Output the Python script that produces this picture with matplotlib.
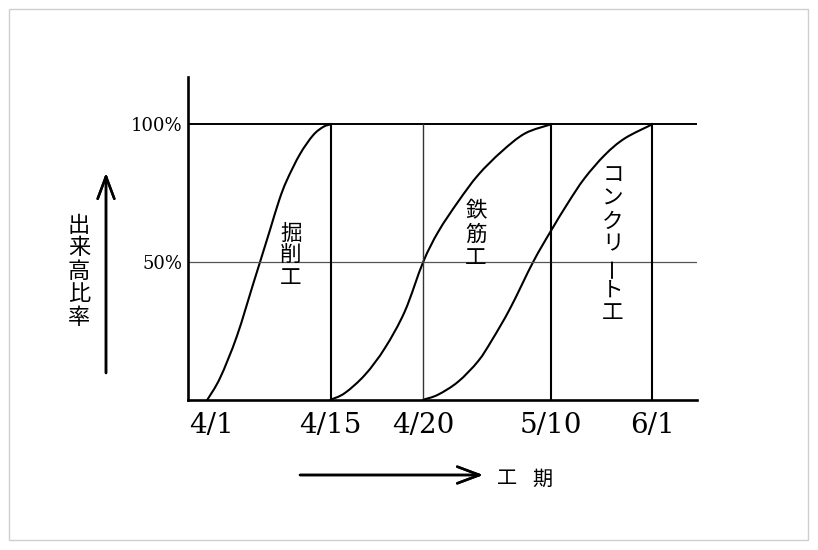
import matplotlib
matplotlib.use("Agg")
import matplotlib.pyplot as plt
from matplotlib.patches import Rectangle, PathPatch
from matplotlib.path import Path

plt.rcParams['font.family'] = ['Noto Sans CJK JP', 'DejaVu Sans']

# schedule position (0-100 across the axis) and progress (%)
kussaku_x = [3.8, 6.3, 9.57, 12.83, 14.15, 16.1, 17.9, 19.4, 22.0, 24.6, 26.6, 28.0]
kussaku_y = [0, 7.9, 22.9, 42.2, 50.0, 61.6, 72.4, 79.6, 89.2, 96.1, 99.1, 100]

tekkin_x = [28.0, 30.8, 34.8, 38.7, 42.6, 46.2, 49.2, 53.1, 57.0, 61.6, 66.2, 71.3]
tekkin_y = [0, 2.4, 9.1, 18.8, 32.1, 50.0, 61.1, 72.0, 81.6, 90.1, 96.7, 100]

concrete_x = [46.2, 49.1, 53.05, 57.0, 59.7, 63.3, 67.8, 71.2, 74.7, 77.9, 81.9, 85.8, 91.2]
concrete_y = [0, 1.8, 6.5, 14.0, 21.6, 33.2, 50.0, 61.0, 71.6, 80.4, 88.9, 94.9, 100]

tick_pos = [4.6, 28.0, 46.2, 71.3, 91.2]
tick_labels = ['4/1', '4/15', '4/20', '5/10', '6/1']
milestones = [28.0, 46.2, 71.3, 91.2]
milestone_lw = [1.5, 1.0, 1.5, 1.5]
milestone_col = ['black', '#333333', 'black', 'black']

W, H = 818, 550
fig = plt.figure(figsize=(W / 100, H / 100), dpi=100)
fig.patch.set_facecolor('white')

# light grey frame around the picture
fig.patches.append(Rectangle((9 / W, 10 / H), 799 / W, 531 / H, transform=fig.transFigure,
                             fill=False, edgecolor='#cfcfcf', linewidth=1.0))

ax = fig.add_axes([188 / W, 150.3 / H, 509 / W, 322.7 / H])
ax.set_xlim(0, 100)
ax.set_ylim(0, 117.2)
for side in ['top', 'right']:
    ax.spines[side].set_visible(False)
for side in ['left', 'bottom']:
    ax.spines[side].set_linewidth(1.9)

# reference lines
ax.plot([0, 100], [100, 100], color='black', lw=1.4)
ax.plot([0, 100], [50, 50], color='#555555', lw=0.9)
for x, lw, c in zip(milestones, milestone_lw, milestone_col):
    ax.plot([x, x], [0, 100], color=c, lw=lw)


def smooth_path(xs, ys):
    # Catmull-Rom through the read points, drawn as cubic Bezier segments
    pts = list(zip(xs, ys))
    pts = [pts[0]] + pts + [pts[-1]]
    verts = [pts[1]]
    codes = [Path.MOVETO]
    for i in range(1, len(pts) - 2):
        p0, p1, p2, p3 = pts[i - 1], pts[i], pts[i + 1], pts[i + 2]
        c1 = (p1[0] + (p2[0] - p0[0]) / 6, p1[1] + (p2[1] - p0[1]) / 6)
        c2 = (p2[0] - (p3[0] - p1[0]) / 6, p2[1] - (p3[1] - p1[1]) / 6)
        verts += [c1, c2, p2]
        codes += [Path.CURVE4] * 3
    return Path(verts, codes)


# S-curves
for xs, ys in [(kussaku_x, kussaku_y), (tekkin_x, tekkin_y), (concrete_x, concrete_y)]:
    ax.add_patch(PathPatch(smooth_path(xs, ys), fill=False, edgecolor='black', lw=1.5,
                           capstyle='round'))

ax.set_xticks(tick_pos)
ax.set_xticklabels(tick_labels, family='DejaVu Serif', fontsize=20)
ax.set_yticks([50, 100])
ax.set_yticklabels(['50%', '100%'], family='DejaVu Serif', fontsize=13)
ax.tick_params(axis='x', length=0, pad=9)
ax.tick_params(axis='y', length=0, pad=4)


def vtext(x, y, text, step=16.3, size=15.5):
    for i, ch in enumerate(text):
        ax.annotate(ch, xy=(x, y), xytext=(0, -i * step), textcoords='offset points',
                    ha='center', va='center', fontsize=size,
                    rotation=90 if ch == 'ー' else 0, annotation_clip=False)


vtext(20.2, 60.2, '掘削工', step=16.0)
vtext(56.6, 68.4, '鉄筋工', step=16.8)
vtext(83.5, 81.3, 'コンクリート工', step=16.5)

# axis arrows
arrow = dict(arrowstyle='->,head_length=0.8,head_width=0.3', color='black', lw=1.8,
             mutation_scale=20, shrinkA=0, shrinkB=0)
fig.add_artist(plt.annotate('', xy=(106 / W, 1 - 173 / H), xytext=(106 / W, 1 - 373 / H),
                            xycoords='figure fraction', textcoords='figure fraction',
                            arrowprops=arrow))
fig.add_artist(plt.annotate('', xy=(483 / W, 1 - 475 / H), xytext=(300 / W, 1 - 475 / H),
                            xycoords='figure fraction', textcoords='figure fraction',
                            arrowprops=arrow))

# axis titles
for i, ch in enumerate('出来高比率'):
    fig.text(79 / W, 1 - (225 + i * 23) / H, ch, ha='center', va='center', fontsize=16)
fig.text(507 / W, 1 - 479 / H, '工', ha='center', va='center', fontsize=14.5)
fig.text(542 / W, 1 - 479 / H, '期', ha='center', va='center', fontsize=14.5)

fig.savefig('out.png', dpi=100, facecolor='white')
